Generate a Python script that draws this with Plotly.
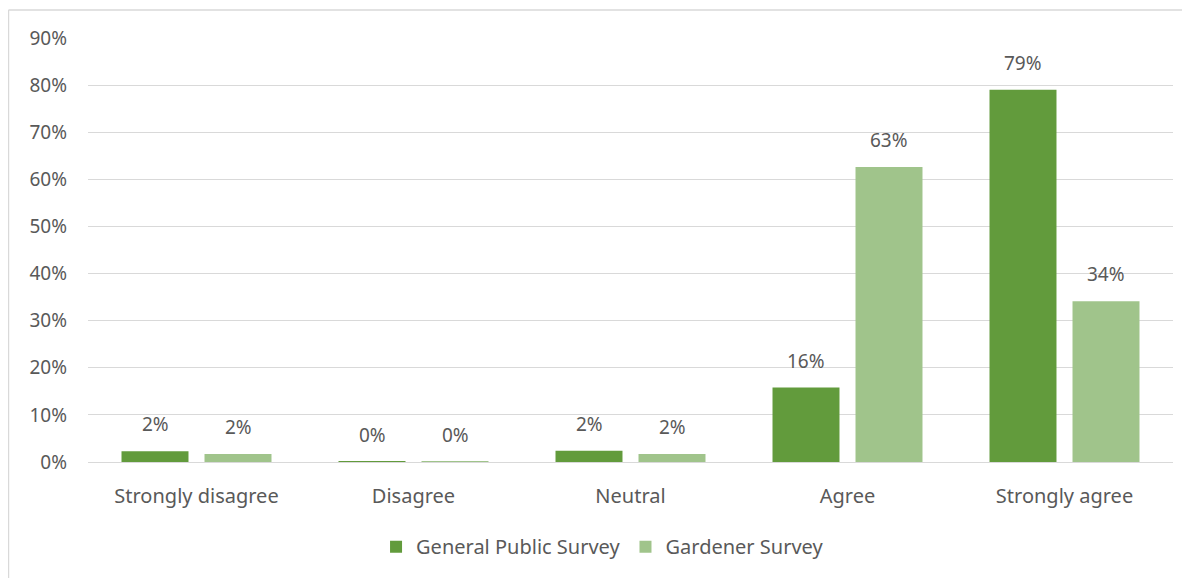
import plotly.graph_objects as go

categories = ["Strongly disagree", "Disagree", "Neutral", "Agree", "Strongly agree"]
general_public = [0.023, 0.001, 0.024, 0.158, 0.79]
gardener = [0.017, 0.001, 0.017, 0.626, 0.341]
series_names = ["General Public Survey", "Gardener Survey"]
tick_vals = [0, 0.1, 0.2, 0.3, 0.4, 0.5, 0.6, 0.7, 0.8, 0.9]
tick_text = ["0%", "10%", "20%", "30%", "40%", "50%", "60%", "70%", "80%", "90%"]

DARK = "#629b3c"
LIGHT = "#a0c48b"
TXT = "#595959"
FONT = "Noto Sans"
FS = 20

fig = go.Figure()
fig.add_trace(go.Bar(x=categories, y=general_public, name=series_names[0],
                     marker=dict(color=DARK, line=dict(width=0))))
fig.add_trace(go.Bar(x=categories, y=gardener, name=series_names[1],
                     marker=dict(color=LIGHT, line=dict(width=0))))

annotations = []
for vals, shift in [(general_public, -41.5), (gardener, 41.5)]:
    for c, v in zip(categories, vals):
        annotations.append(dict(x=c, y=v, xref="x", yref="y", text=f"{round(v*100)}%",
                                showarrow=False, xshift=shift, yshift=27, yanchor="middle",
                                font=dict(family=FONT, size=19, color=TXT)))

fig.update_layout(
    width=1182, height=570,
    margin=dict(l=80, r=17, t=30, b=116),
    paper_bgcolor="white", plot_bgcolor="white",
    barmode="group", bargap=0.235, bargroupgap=0.193,
    font=dict(family=FONT, size=FS, color=TXT),
    showlegend=True,
    legend=dict(orientation="h", xref="container", x=0.503, xanchor="center",
                yref="container", y=0.055, yanchor="middle",
                font=dict(family=FONT, size=FS, color=TXT),
                itemwidth=30, traceorder="normal"),
    annotations=annotations,
    shapes=[
        dict(type="line", xref="paper", yref="paper", x0=-0.0733, x1=1.2, y0=1.066, y1=1.066,
             line=dict(color="#d9d9d9", width=1.5)),
        dict(type="line", xref="paper", yref="paper", x0=-0.0733, x1=-0.0733, y0=1.066, y1=-0.5,
             line=dict(color="#d9d9d9", width=1.5)),
    ],
)
fig.update_xaxes(showgrid=False, showline=True, linecolor="#d9d9d9", linewidth=1,
                 ticks="", ticklabelstandoff=16, tickfont=dict(family=FONT, size=FS, color=TXT))
fig.update_yaxes(range=[0, 0.9], tickvals=tick_vals, ticktext=tick_text,
                 showgrid=True, gridcolor="#d9d9d9", gridwidth=1, zeroline=False,
                 showline=False, ticks="", ticklabelstandoff=20,
                 tickfont=dict(family=FONT, size=19, color=TXT))

fig.write_html("out.html")
